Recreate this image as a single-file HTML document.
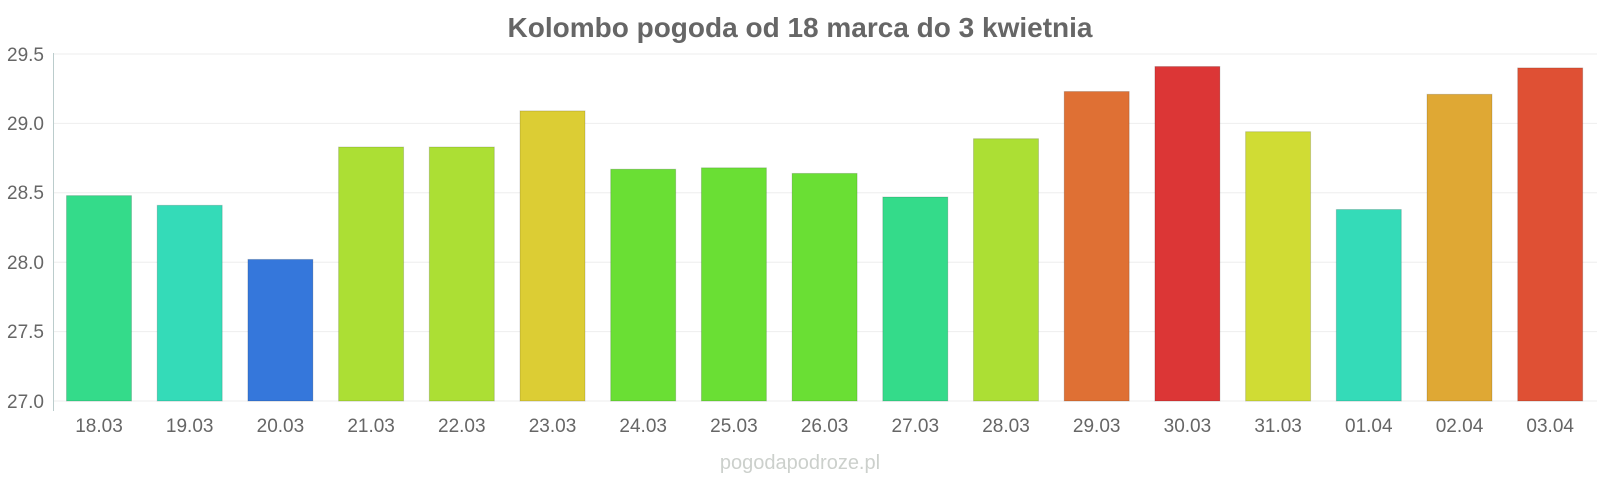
<!DOCTYPE html>
<html><head><meta charset="utf-8"><style>
body{margin:0;background:#fff;}
svg{display:block;font-family:"Liberation Sans",sans-serif;}
</style></head><body>
<svg width="1600" height="480" xmlns="http://www.w3.org/2000/svg">
<text x="800" y="37" text-anchor="middle" font-size="28" font-weight="bold" fill="#666">Kolombo pogoda od 18 marca do 3 kwietnia</text>
<g stroke="#eee" stroke-width="1">
<line x1="53" x2="1597" y1="54" y2="54"/>
<line x1="53" x2="1597" y1="123.4" y2="123.4"/>
<line x1="53" x2="1597" y1="192.8" y2="192.8"/>
<line x1="53" x2="1597" y1="262.2" y2="262.2"/>
<line x1="53" x2="1597" y1="331.6" y2="331.6"/>
<line x1="53" x2="1597" y1="401" y2="401"/>
</g>
<line x1="53.5" x2="53.5" y1="53" y2="411" stroke="#bcc" stroke-width="1"/>
<g font-size="19" fill="#666" text-anchor="end">
<text x="44" y="61">29.5</text><text x="44" y="130">29.0</text><text x="44" y="199">28.5</text><text x="44" y="269">28.0</text><text x="44" y="338">27.5</text><text x="44" y="408">27.0</text>
</g>
<g stroke="rgba(0,0,0,0.15)" stroke-width="1">
<rect x="66.5" y="195.6" width="65" height="205.4" fill="#34db8a"/>
<rect x="157.2" y="205.3" width="65" height="195.7" fill="#34dbb8"/>
<rect x="247.9" y="259.4" width="65" height="141.6" fill="#3577db"/>
<rect x="338.6" y="147" width="65" height="254" fill="#acdf34"/>
<rect x="429.3" y="147" width="65" height="254" fill="#acdf34"/>
<rect x="520" y="110.9" width="65" height="290.1" fill="#dccd34"/>
<rect x="610.7" y="169.2" width="65" height="231.8" fill="#6adf34"/>
<rect x="701.4" y="167.8" width="65" height="233.2" fill="#6adf34"/>
<rect x="792.1" y="173.4" width="65" height="227.6" fill="#6adf34"/>
<rect x="882.8" y="197" width="65" height="204" fill="#34db8a"/>
<rect x="973.5" y="138.7" width="65" height="262.3" fill="#acdf34"/>
<rect x="1064.2" y="91.5" width="65" height="309.5" fill="#df7034"/>
<rect x="1154.9" y="66.5" width="65" height="334.5" fill="#dc3636"/>
<rect x="1245.6" y="131.7" width="65" height="269.3" fill="#d0dc34"/>
<rect x="1336.3" y="209.5" width="65" height="191.5" fill="#34dbb8"/>
<rect x="1427" y="94.3" width="65" height="306.7" fill="#dfa834"/>
<rect x="1517.7" y="67.9" width="65" height="333.1" fill="#df5034"/>
</g>
<g font-size="19" fill="#666" text-anchor="middle">
<text x="99" y="432">18.03</text><text x="189.7" y="432">19.03</text><text x="280.4" y="432">20.03</text><text x="371.1" y="432">21.03</text><text x="461.8" y="432">22.03</text><text x="552.5" y="432">23.03</text><text x="643.2" y="432">24.03</text><text x="733.9" y="432">25.03</text><text x="824.6" y="432">26.03</text><text x="915.3" y="432">27.03</text><text x="1006" y="432">28.03</text><text x="1096.7" y="432">29.03</text><text x="1187.4" y="432">30.03</text><text x="1278.1" y="432">31.03</text><text x="1368.8" y="432">01.04</text><text x="1459.5" y="432">02.04</text><text x="1550.2" y="432">03.04</text>
</g>
<text x="800" y="469" text-anchor="middle" font-size="20" fill="#ccd0cc">pogodapodroze.pl</text>
</svg>
</body></html>
